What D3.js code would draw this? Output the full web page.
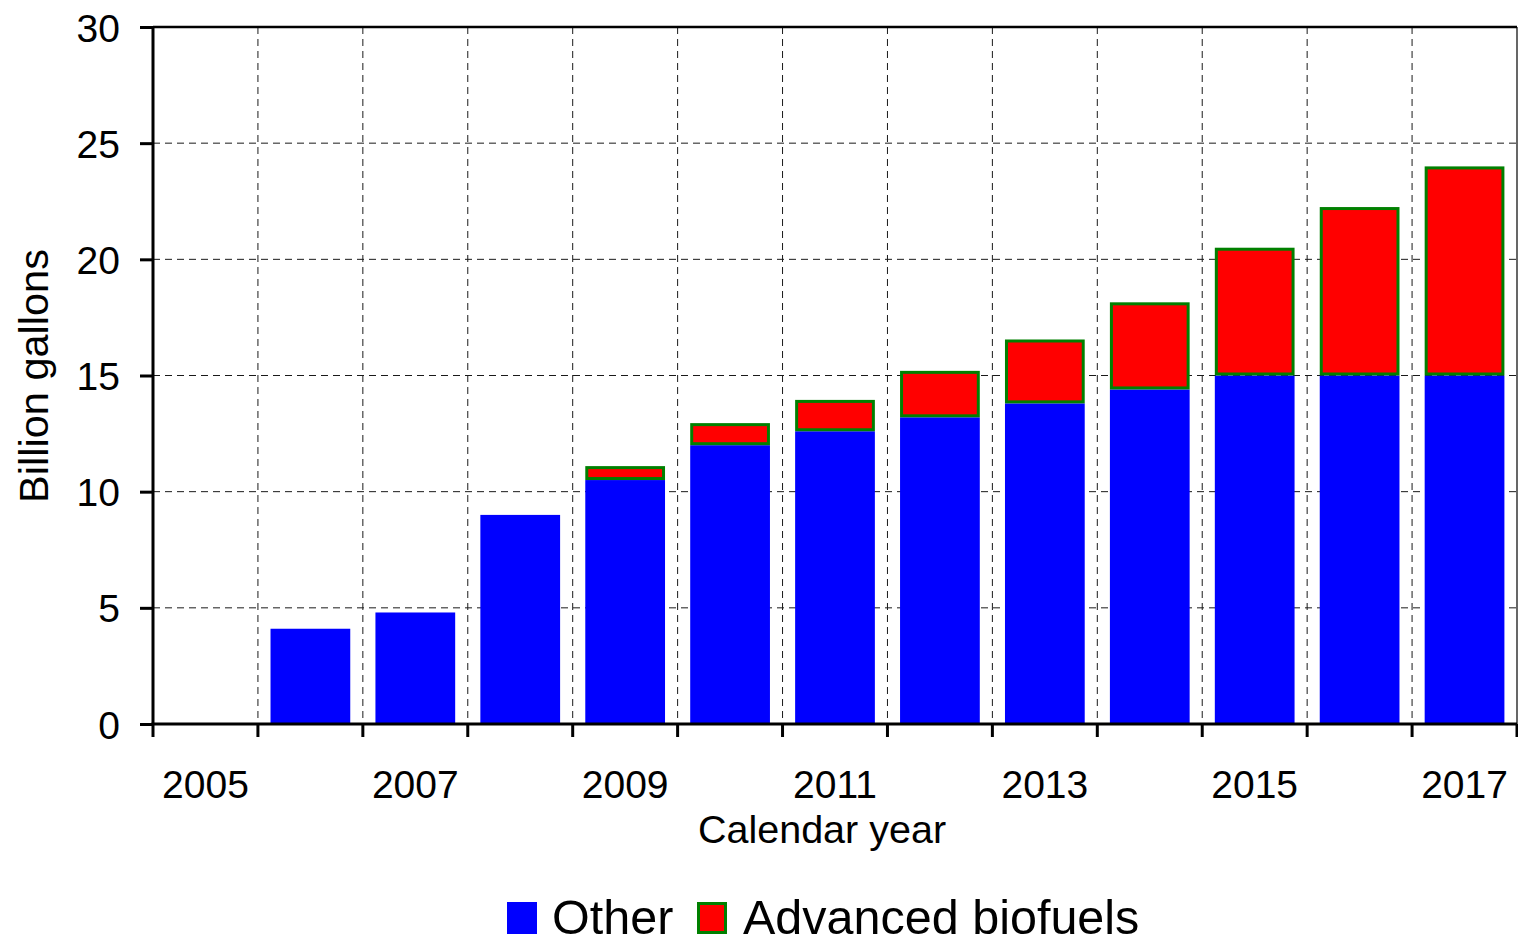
<!DOCTYPE html>
<html>
<head>
<meta charset="utf-8">
<title>Billion gallons by calendar year</title>
<script src="https://cdn.jsdelivr.net/npm/d3@7"></script>
<style>
  body { margin: 0; background: #fff; font-family: "Liberation Sans", Arial, sans-serif; }
  svg text { fill: #000; }
</style>
</head>
<body>
<svg id="chart" width="1518" height="941"></svg>
<script>
const years = ["2005","2006","2007","2008","2009","2010","2011","2012","2013","2014","2015","2016","2017"];
const other = [0, 4.1, 4.8, 9.0, 10.5, 12.0, 12.6, 13.2, 13.8, 14.4, 15.0, 15.0, 15.0];
const advanced = [0, 0, 0, 0, 0.6, 0.95, 1.35, 2.0, 2.75, 3.75, 5.5, 7.25, 9.0];
const yTicks = [0, 5, 10, 15, 20, 25, 30];
const xLabels = ["2005", "2007", "2009", "2011", "2013", "2015", "2017"];

const plotLeft = 153, plotRight = 1517, plotTop = 27, plotBottom = 724;
const svg = d3.select("#chart");

const x = d3.scaleBand().domain(years).range([plotLeft, plotRight]).paddingInner(0.24).paddingOuter(0.12);
const xEdge = d3.scaleLinear().domain([0, years.length]).range([plotLeft, plotRight]);
const y = d3.scaleLinear().domain([0, 30]).range([plotBottom, plotTop]);

// grid
const grid = svg.append("g").attr("stroke", "#1a1a1a").attr("stroke-width", 1).attr("stroke-dasharray", "7,5");
grid.selectAll(".hg").data(yTicks.filter(d => d > 0 && d < 30)).enter().append("line")
  .attr("x1", plotLeft).attr("x2", plotRight).attr("y1", d => y(d)).attr("y2", d => y(d));
grid.selectAll(".vg").data(d3.range(1, years.length)).enter().append("line")
  .attr("x1", d => xEdge(d)).attr("x2", d => xEdge(d)).attr("y1", plotTop).attr("y2", plotBottom);

// bars
svg.append("g").selectAll("rect").data(years).enter().append("rect")
  .filter((d, i) => other[i] > 0)
  .attr("x", d => x(d)).attr("width", x.bandwidth())
  .attr("y", d => y(other[years.indexOf(d)])).attr("height", d => y(0) - y(other[years.indexOf(d)]))
  .attr("fill", "#0000ff");

svg.append("g").selectAll("rect").data(years).enter().append("rect")
  .filter((d, i) => advanced[i] > 0)
  .attr("x", d => x(d) + 1.5).attr("width", x.bandwidth() - 3)
  .attr("y", d => { const i = years.indexOf(d); return y(other[i] + advanced[i]) + 1.5; })
  .attr("height", d => { const i = years.indexOf(d); return y(other[i]) - y(other[i] + advanced[i]) - 3; })
  .attr("fill", "#ff0000").attr("stroke", "#008000").attr("stroke-width", 3);

// frame
svg.append("line").attr("x1", plotLeft).attr("x2", plotRight).attr("y1", plotTop).attr("y2", plotTop)
  .attr("stroke", "#000").attr("stroke-width", 2.5);
svg.append("line").attr("x1", plotRight).attr("x2", plotRight).attr("y1", plotTop).attr("y2", plotBottom)
  .attr("stroke", "#000").attr("stroke-width", 1.2);

// y axis
const yAxis = svg.append("g").attr("transform", `translate(${plotLeft},0)`)
  .call(d3.axisLeft(y).tickValues(yTicks).tickSize(13).tickPadding(20).tickFormat(d3.format("d")));
yAxis.select(".domain").attr("stroke-width", 3).attr("d", `M0,${plotTop}V${plotBottom}`);
yAxis.selectAll(".tick line").attr("stroke-width", 3);
yAxis.selectAll(".tick text").attr("font-size", 39).attr("font-family", "Liberation Sans, Arial, sans-serif").attr("dy", "0.36em");

// x axis: ticks at band edges, labels centered in bands
const xAxis = svg.append("g");
xAxis.append("line").attr("x1", plotLeft - 1.5).attr("x2", plotRight).attr("y1", plotBottom).attr("y2", plotBottom)
  .attr("stroke", "#000").attr("stroke-width", 3);
xAxis.selectAll(".xt").data(d3.range(0, years.length + 1)).enter().append("line")
  .attr("x1", d => xEdge(d)).attr("x2", d => xEdge(d)).attr("y1", plotBottom).attr("y2", plotBottom + 13)
  .attr("stroke", "#000").attr("stroke-width", 3);
xAxis.selectAll(".xl").data(xLabels).enter().append("text")
  .attr("x", d => x(d) + x.bandwidth() / 2).attr("y", 798)
  .attr("text-anchor", "middle").attr("font-size", 39).text(d => d);

// axis titles
svg.append("text").attr("x", 822).attr("y", 843).attr("text-anchor", "middle")
  .attr("font-size", 39.5).text("Calendar year");
svg.append("text").attr("transform", "translate(48,376) rotate(-90)").attr("text-anchor", "middle")
  .attr("font-size", 41.5).text("Billion gallons");

// legend
const legend = svg.append("g");
legend.append("rect").attr("x", 507).attr("y", 902).attr("width", 30).attr("height", 32).attr("fill", "#0000ff");
legend.append("text").attr("x", 552).attr("y", 934).attr("font-size", 48.5).text("Other");
legend.append("rect").attr("x", 698.5).attr("y", 903.5).attr("width", 27).attr("height", 29)
  .attr("fill", "#ff0000").attr("stroke", "#008000").attr("stroke-width", 3);
legend.append("text").attr("x", 743).attr("y", 934).attr("font-size", 48.5).text("Advanced biofuels");
</script>
</body>
</html>
